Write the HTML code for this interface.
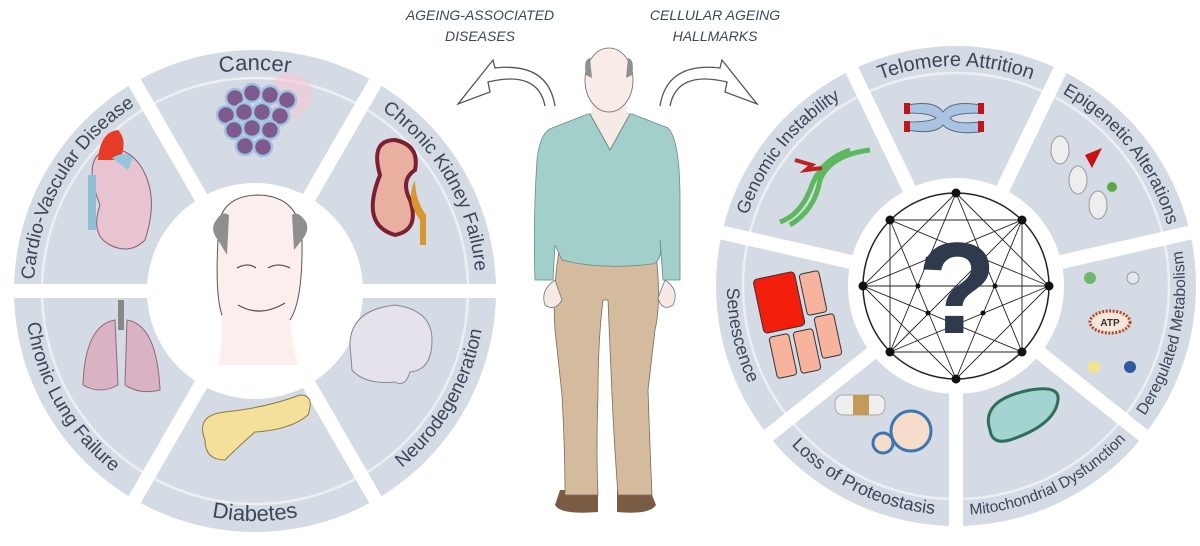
<!DOCTYPE html>
<html><head><meta charset="utf-8"><style>
html,body{margin:0;padding:0;background:#fff;width:1200px;height:546px;overflow:hidden}
svg{display:block}
.lbl{font-family:"Liberation Sans",sans-serif;font-size:19px;fill:#3b4657}
.hd{font-family:"Liberation Sans",sans-serif;font-size:14px;font-style:italic;fill:#3b4657}
</style></head><body>
<svg width="1200" height="546" viewBox="0 0 1200 546" xmlns="http://www.w3.org/2000/svg">
<defs>
<path id="l1" d="M63.6,180.5 A221,221 0 0 1 446.4,180.5"/>
<path id="l2" d="M255,70 A221,221 0 0 1 446.4,401.5"/>
<path id="l3" d="M63.6,401.5 A221,221 0 0 1 255,70"/>
<path id="l4" d="M255,521 A230,230 0 0 0 454.2,176"/>
<path id="l5" d="M55.8,406 A230,230 0 0 0 454.2,406"/>
<path id="l6" d="M55.8,176 A230,230 0 0 0 255,521"/>
<path id="r1" d="M765.5,176 A220,220 0 0 1 1146.5,176"/>
<path id="r2" d="M923.2,68.4 A220,220 0 0 1 1160.8,366.4"/>
<path id="r3" d="M751.2,366.4 A220,220 0 0 1 988.8,68.4"/>
<path id="r4" d="M1023.5,504.8 A229,229 0 0 0 1111.8,118.1"/>
<path id="r5" d="M827,475.2 A229,229 0 0 0 1184.4,303.1"/>
<path id="r6" d="M727.6,303.1 A229,229 0 0 0 1085,475.2"/>
<path id="r7" d="M800.2,118.1 A229,229 0 0 0 888.5,504.8"/>
</defs>

<!-- LEFT WHEEL -->
<circle cx="255" cy="291" r="241" fill="#d4dbe5"/>
<circle cx="255" cy="291" r="213" fill="none" stroke="#eceff4" stroke-width="2.5"/>
<g stroke="#fff" stroke-width="14">
<line x1="255" y1="291" x2="505" y2="291"/><line x1="255" y1="291" x2="380" y2="507.5"/>
<line x1="255" y1="291" x2="130" y2="507.5"/><line x1="255" y1="291" x2="5" y2="291"/>
<line x1="255" y1="291" x2="130" y2="74.5"/><line x1="255" y1="291" x2="380" y2="74.5"/>
</g>
<circle cx="255" cy="291" r="108" fill="#fff"/>
<text class="lbl" style="font-size:22px"><textPath href="#l1" startOffset="50%" text-anchor="middle">Cancer</textPath></text>
<text class="lbl"><textPath href="#l2" startOffset="50%" text-anchor="middle">Chronic Kidney Failure</textPath></text>
<text class="lbl"><textPath href="#l3" startOffset="50%" text-anchor="middle">Cardio-Vascular Disease</textPath></text>
<text class="lbl"><textPath href="#l4" startOffset="50%" text-anchor="middle">Neurodegeneration</textPath></text>
<text class="lbl" style="font-size:22px"><textPath href="#l5" startOffset="50%" text-anchor="middle">Diabetes</textPath></text>
<text class="lbl"><textPath href="#l6" startOffset="50%" text-anchor="middle">Chronic Lung Failure</textPath></text>

<!-- cancer cells -->
<circle cx="290" cy="95" r="22" fill="#f3c6d3" opacity=".6"/>
<g stroke="#9fc3e0" stroke-width="2.5" fill="#7f5a8e">
<circle cx="235" cy="98" r="9"/><circle cx="252" cy="93" r="9"/><circle cx="270" cy="95" r="9"/><circle cx="287" cy="100" r="9"/>
<circle cx="226" cy="115" r="9"/><circle cx="244" cy="112" r="9"/><circle cx="262" cy="112" r="9"/><circle cx="280" cy="116" r="9"/>
<circle cx="234" cy="130" r="9"/><circle cx="252" cy="128" r="9"/><circle cx="270" cy="130" r="9"/>
<circle cx="245" cy="146" r="9"/><circle cx="263" cy="147" r="9"/>
</g>
<!-- heart -->
<path d="M100,205 Q82,160 105,150 Q125,145 140,165 Q160,195 145,240 Q130,255 110,245 Q90,235 100,205Z" fill="#e7c4d0" stroke="#8a5a6a"/>
<rect x="88" y="175" width="8" height="55" fill="#8fc0d8"/>
<path d="M98,160 Q100,132 118,130 Q128,140 120,160Z" fill="#e63b26"/>
<path d="M112,158 Q125,150 133,158 L128,170 Z" fill="#94c6dc"/>
<!-- kidney -->
<path d="M380,175 Q370,140 395,140 Q420,145 415,170 Q400,180 410,200 Q420,230 395,235 Q360,225 380,175Z" fill="#e9b0a2" stroke="#7a2031" stroke-width="4"/>
<path d="M415,180 Q405,200 420,220 L420,245 L426,245 L426,215 Q415,200 415,180Z" fill="#d9962f"/>
<!-- lungs -->
<path d="M115,320 Q85,325 83,385 Q100,395 118,385 Z" fill="#d9b3c3" stroke="#8b6b78"/>
<path d="M127,320 Q157,325 160,390 Q140,395 125,385 Z" fill="#d9b3c3" stroke="#8b6b78"/>
<rect x="118" y="300" width="6" height="30" fill="#888"/>
<!-- pancreas -->
<path d="M205,440 Q195,415 225,412 Q265,408 300,395 Q315,395 308,415 Q290,430 255,432 Q240,445 225,460 Q205,460 205,440Z" fill="#f5e09a" stroke="#8a7a40"/>
<!-- brain -->
<path d="M350,345 Q350,310 395,305 Q432,310 432,340 Q432,370 410,372 Q405,388 395,382 Q365,385 352,370 Z" fill="#e6e2ec" stroke="#8a8595"/>
<!-- face -->
<path d="M218,240 Q215,196 258,195 Q300,196 302,240 Q303,300 290,320 Q270,340 252,340 Q230,335 222,315 Q215,295 218,240Z" fill="#fbeeed" stroke="#555" stroke-width="1"/>
<path d="M218,240 Q210,230 215,222 Q222,210 229,215 L227,255 Z" fill="#8f8f8f"/>
<path d="M302,240 Q310,230 306,222 Q298,210 292,215 L294,250 Z" fill="#8f8f8f"/>
<path d="M222,315 Q222,355 218,365 L298,365 Q292,345 290,320 Z" fill="#fbeeed"/>
<path d="M237,268 Q248,262 256,268 M268,268 Q278,262 290,268 M238,305 Q260,318 285,303" stroke="#555" fill="none" stroke-width="1.3"/>

<!-- HEADERS -->
<text class="hd" x="480" y="20" text-anchor="middle">AGEING-ASSOCIATED</text>
<text class="hd" x="480" y="41" text-anchor="middle">DISEASES</text>
<text class="hd" x="715" y="20" text-anchor="middle">CELLULAR AGEING</text>
<text class="hd" x="715" y="41" text-anchor="middle">HALLMARKS</text>
<!-- arrows -->
<path d="M555,106 Q548,62 495,68 L493,60 L458,104 L490,92 L488,82 Q538,70 545,106" fill="#fff" stroke="#555" stroke-width="1.3"/>
<path d="M660,106 Q667,62 720,68 L722,60 L757,104 L725,92 L727,82 Q677,70 670,106" fill="#fff" stroke="#555" stroke-width="1.3"/>

<!-- MAN -->
<path d="M560,490 L555,505 Q560,515 598,512 L598,490Z" fill="#7a5c45"/>
<path d="M617,490 L617,512 Q650,515 656,505 L650,490Z" fill="#7a5c45"/>
<path d="M560,245 L655,245 Q662,300 655,330 L648,390 Q650,450 652,495 L618,495 Q614,440 612,395 L608,300 L603,300 Q598,340 598,395 Q596,450 598,495 L565,495 Q565,450 562,395 L555,330 Q552,290 560,245Z" fill="#d5bb9d" stroke="#7a6a5a" stroke-width="0.8"/>
<path d="M555,280 Q540,290 545,305 Q555,312 562,300 Z" fill="#f6eae6" stroke="#777" stroke-width=".8"/>
<path d="M665,280 Q680,290 673,305 Q662,312 658,298 Z" fill="#f6eae6" stroke="#777" stroke-width=".8"/>
<path d="M588,114 L632,114 L668,128 Q680,140 680,200 L680,280 L663,280 L660,240 Q663,262 652,264 Q600,270 562,260 L555,245 L553,280 L535,280 Q533,220 537,160 Q540,132 552,128Z" fill="#a2cfc9" stroke="#6a8a86" stroke-width="0.8"/>
<path d="M590,114 L610,150 L630,114" fill="#f6eae6" stroke="#6a8a86"/>
<path d="M592,100 Q590,113 595,117 L625,117 Q628,110 626,100Z" fill="#f6eae6"/>
<ellipse cx="609" cy="80" rx="24" ry="32" fill="#f8ebe8" stroke="#666" stroke-width=".8"/>
<path d="M586,75 Q583,60 590,58 L592,78Z M632,75 Q635,60 628,58 L626,78Z" fill="#8f8f8f"/>

<!-- RIGHT WHEEL -->
<circle cx="956" cy="286" r="240" fill="#d4dbe5"/>
<circle cx="956" cy="286" r="213" fill="none" stroke="#eceff4" stroke-width="2.5"/>
<g stroke="#fff" stroke-width="14">
<line x1="956" y1="286" x2="1064.5" y2="60.7"/><line x1="956" y1="286" x2="1199.7" y2="230.4"/>
<line x1="956" y1="286" x2="1151.5" y2="441.9"/><line x1="956" y1="286" x2="956" y2="536"/>
<line x1="956" y1="286" x2="760.5" y2="441.9"/><line x1="956" y1="286" x2="712.3" y2="230.4"/>
<line x1="956" y1="286" x2="847.5" y2="60.7"/>
</g>
<circle cx="956" cy="286" r="108" fill="#fff"/>
<text class="lbl" style="font-size:20px"><textPath href="#r1" startOffset="50%" text-anchor="middle">Telomere Attrition</textPath></text>
<text class="lbl" style="font-size:18px"><textPath href="#r2" startOffset="50%" text-anchor="middle">Epigenetic Alterations</textPath></text>
<text class="lbl" style="font-size:18px"><textPath href="#r3" startOffset="50%" text-anchor="middle">Genomic Instability</textPath></text>
<text class="lbl" style="font-size:16px"><textPath href="#r4" startOffset="50%" text-anchor="middle">Deregulated Metabolism</textPath></text>
<text class="lbl" style="font-size:15.5px"><textPath href="#r5" startOffset="50%" text-anchor="middle">Mitochondrial Dysfunction</textPath></text>
<text class="lbl" style="font-size:18px"><textPath href="#r6" startOffset="50%" text-anchor="middle">Loss of Proteostasis</textPath></text>
<text class="lbl" style="font-size:18px"><textPath href="#r7" startOffset="50%" text-anchor="middle">Senescence</textPath></text>

<!-- graph -->
<g stroke="#222" stroke-width="0.9" fill="none">
<circle cx="956" cy="286" r="93" stroke-width="1.5"/>
<path d="M956,193 L1049,286 L956,379 L863,286Z M1022,220 L1022,352 L890,352 L890,220Z"/>
<path d="M956,193 L1022,352 L863,286 L1022,220 L890,352 L956,193 M1049,286 L890,352 M1049,286 L890,220 L956,379 L1022,220 M863,286 L1022,352 M956,193 L890,352 M863,286 L1049,286"/>
</g>
<g fill="#111">
<circle cx="956" cy="193" r="4.5"/><circle cx="1022" cy="220" r="4.5"/><circle cx="1049" cy="286" r="4.5"/><circle cx="1022" cy="352" r="4.5"/>
<circle cx="956" cy="379" r="4.5"/><circle cx="890" cy="352" r="4.5"/><circle cx="863" cy="286" r="4.5"/><circle cx="890" cy="220" r="4.5"/>
<circle cx="928" cy="259" r="2.5"/><circle cx="918" cy="286" r="2.5"/><circle cx="995" cy="286" r="2.5"/><circle cx="928" cy="313" r="2.5"/><circle cx="983" cy="313" r="2.5"/>
</g>
<text x="957" y="333" text-anchor="middle" font-family="Liberation Sans,sans-serif" font-weight="bold" font-size="130" fill="#2f3a4c">?</text>

<!-- chromosome -->
<path d="M908,105 Q935,100 943,112 Q952,100 980,105 L980,113 Q955,113 950,118 Q955,125 980,122 L980,132 Q952,135 943,125 Q935,135 908,130 L908,122 Q930,122 936,118 Q930,113 908,113Z" fill="#a9c3e0" stroke="#5a6a80"/>
<rect x="904" y="103" width="6" height="11" fill="#c0141a"/><rect x="978" y="103" width="6" height="11" fill="#c0141a"/>
<rect x="904" y="121" width="6" height="11" fill="#c0141a"/><rect x="978" y="121" width="6" height="11" fill="#c0141a"/>
<!-- DNA -->
<path d="M780,222 Q800,215 810,190 Q820,160 850,150 M790,225 Q815,210 820,180 Q830,155 870,150" stroke="#5cb85c" stroke-width="5" fill="none"/>
<path d="M795,160 L812,165 L806,170 L822,168" stroke="#c02020" stroke-width="4" fill="none"/>
<!-- epigenetic -->
<ellipse cx="1060" cy="150" rx="9" ry="14" fill="#eee" stroke="#999"/><ellipse cx="1078" cy="180" rx="9" ry="14" fill="#eee" stroke="#999"/><ellipse cx="1098" cy="205" rx="9" ry="14" fill="#eee" stroke="#999"/>
<path d="M1085,155 L1102,148 L1092,168Z" fill="#cc1010"/><circle cx="1112" cy="187" r="5" fill="#5aa845"/>
<!-- ATP -->
<ellipse cx="1110" cy="322" rx="20" ry="11" fill="#f8e6dc" stroke="#b04a20" stroke-width="3" stroke-dasharray="2 1.5"/>
<text x="1110" y="326" text-anchor="middle" font-family="Liberation Sans,sans-serif" font-size="10" font-weight="bold" fill="#333">ATP</text>
<circle cx="1090" cy="278" r="6" fill="#6cb86a"/><circle cx="1133" cy="278" r="6" fill="#e6e6ee" stroke="#999"/>
<circle cx="1094" cy="367" r="6" fill="#f0e68a"/><circle cx="1130" cy="367" r="6" fill="#2c5aa0"/>
<!-- mitochondria -->
<path d="M990,430 Q980,400 1030,390 Q1060,385 1058,400 Q1055,425 1010,440 Q992,445 990,430Z" fill="#a4d4d0" stroke="#2f6e5a" stroke-width="3"/>
<!-- proteostasis -->
<rect x="835" y="395" width="50" height="20" rx="8" fill="#eee" stroke="#aaa"/><rect x="853" y="395" width="16" height="20" fill="#c49a56"/>
<circle cx="911" cy="431" r="20" fill="#f6dccb" stroke="#3a77b0" stroke-width="3"/><circle cx="883" cy="443" r="10" fill="#f6dccb" stroke="#3a77b0" stroke-width="3"/>
<!-- senescence cells -->
<rect x="758" y="275" width="42" height="55" rx="4" fill="#f21d0a" stroke="#333" transform="rotate(-12 779 302)"/>
<rect x="803" y="272" width="20" height="42" rx="3" fill="#f8b39c" stroke="#333" transform="rotate(-12 813 293)"/>
<rect x="773" y="335" width="20" height="42" rx="3" fill="#f8b39c" stroke="#333" transform="rotate(-12 783 356)"/>
<rect x="797" y="330" width="20" height="42" rx="3" fill="#f8b39c" stroke="#333" transform="rotate(-12 807 351)"/>
<rect x="818" y="315" width="20" height="42" rx="3" fill="#f8b39c" stroke="#333" transform="rotate(-12 828 336)"/>
</svg>
</body></html>
